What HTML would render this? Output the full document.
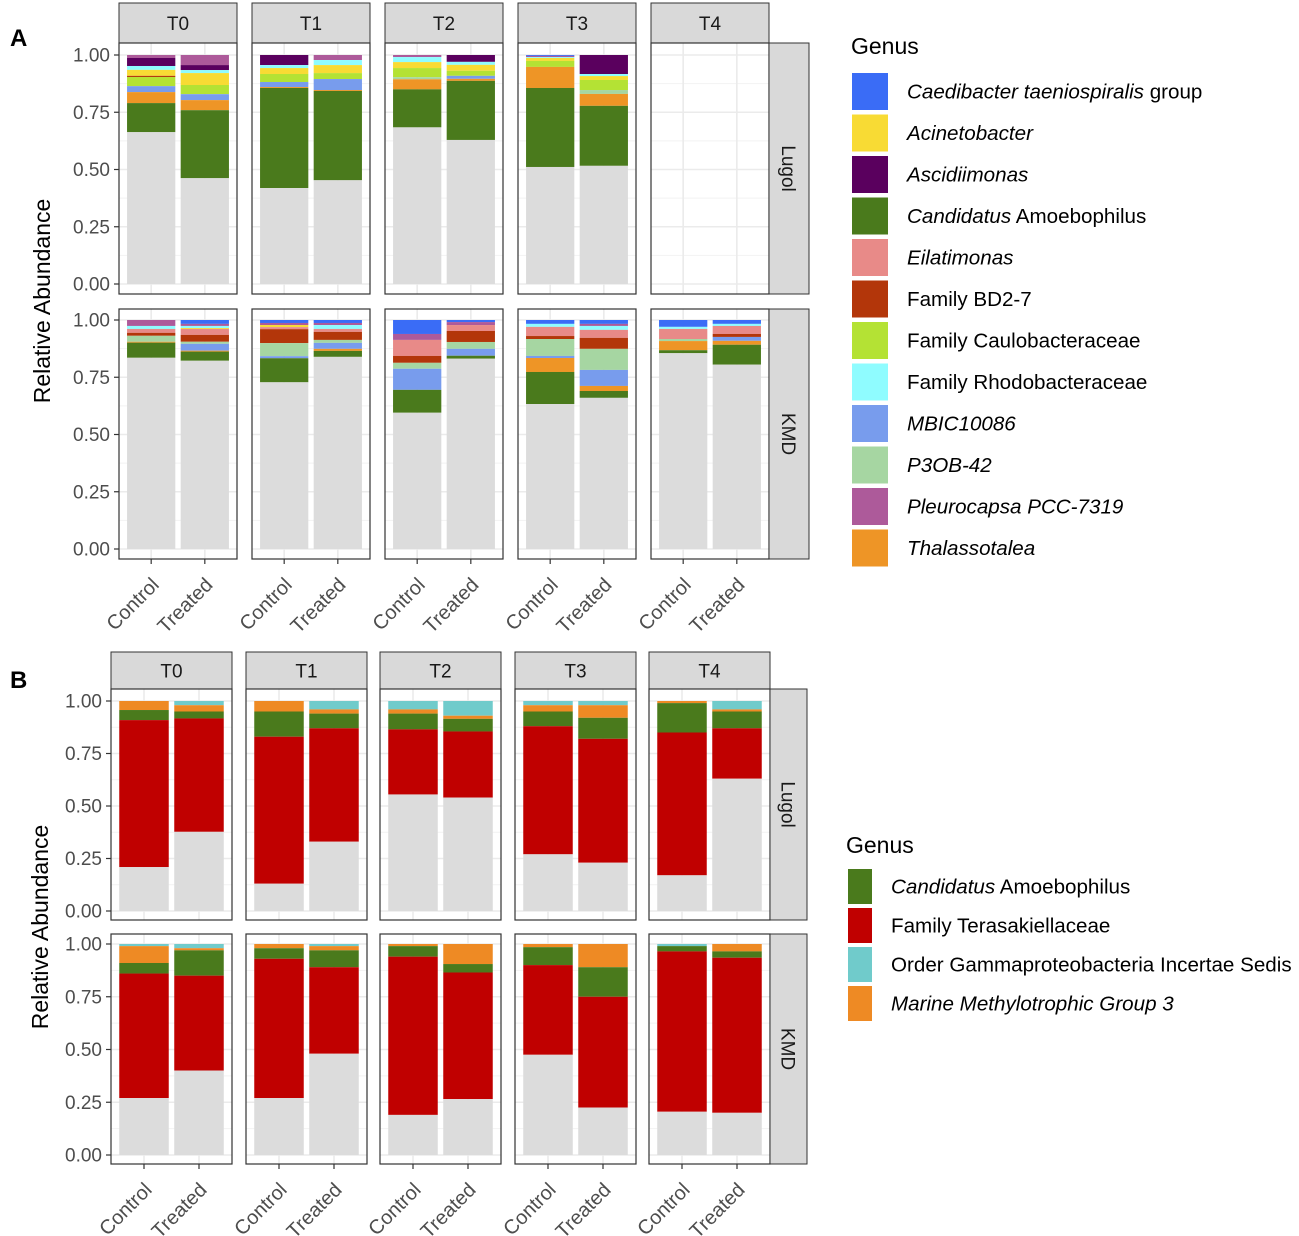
<!DOCTYPE html>
<html><head><meta charset="utf-8"><style>
body{margin:0;background:#fff;}
svg{display:block;font-family:"Liberation Sans",sans-serif;}
</style></head><body>
<svg id="fig" width="1299" height="1236" viewBox="0 0 1299 1236"></svg>
<script>
// ---------- Panel A data ----------
const genusA = ["Caedibacter taeniospiralis group","Pleurocapsa PCC-7319","Ascidiimonas","Family Rhodobacteraceae","Acinetobacter","Eilatimonas","Family BD2-7","Family Caulobacteraceae","P3OB-42","MBIC10086","Thalassotalea","Candidatus Amoebophilus","Other"];
const colorsA = ["#3a6cf6","#ad5a9a","#5a005e","#8ffcff","#f8db34","#e88a88","#b3360a","#b4e234","#a6d6a2","#789ced","#ee9526","#4a7a1c","#dcdcdc"];
const timepoints = ["T0","T1","T2","T3","T4"];
const treatments = ["Control","Treated"];
// segment order = genusA order (top to bottom); null = no bar
const aLugolControl = [
 [0,.013,.035,.017,.026,0,.005,.04,0,.026,.048,.127,.663],
 [0,0,.044,.013,.026,0,0,.035,0,.022,.004,.437,.419],
 [0,.009,0,.022,.026,0,0,.04,.009,0,.044,.166,.684],
 [.004,.005,0,.004,.013,0,0,.026,0,0,.092,.345,.511],
 null];
const aLugolTreated = [
 [0,.044,.022,.013,.052,0,0,.04,0,.026,.044,.297,.462],
 [0,.022,0,.022,.035,0,0,.026,0,.048,.004,.39,.453],
 [0,0,.03,.013,.026,0,0,.022,0,.013,.009,.258,.629],
 [0,0,.083,.009,.017,0,0,.044,.017,0,.052,.262,.516],
 null];
const aKmdControl = [
 [0,.026,0,.013,0,.017,.013,0,.026,0,.004,.066,.835],
 [.013,.009,0,0,.009,.009,.061,0,.057,.009,0,.105,.728],
 [.061,.026,0,0,0,.07,.03,0,.026,.092,0,.1,.595],
 [.017,0,0,.013,0,.04,.013,0,.074,.009,.061,.14,.633],
 [.03,0,0,.009,0,.044,0,0,.009,0,.04,.013,.855]];
const aKmdTreated = [
 [.017,.009,0,.009,.004,.026,.03,0,.009,.03,.004,.04,.822],
 [.013,.009,0,.017,0,.013,.035,0,.013,.026,.009,.026,.839],
 [.009,.013,0,0,0,.026,.048,0,.03,.03,0,.013,.831],
 [.017,.009,0,.017,0,.035,.048,0,.092,.07,.022,.03,.66],
 [.017,0,0,.009,0,.035,.013,0,0,.017,.017,.087,.805]];
// ---------- Panel B data ----------
const genusB = ["Order Gammaproteobacteria Incertae Sedis","Marine Methylotrophic Group 3","Candidatus Amoebophilus","Family Terasakiellaceae","Other"];
const colorsB = ["#70cbcb","#ee8a24","#4a7a1c","#c00000","#dcdcdc"];
const bLugolControl = [[0,.043,.048,.70,.209],[0,.05,.12,.70,.13],[.04,.02,.075,.31,.555],[.02,.03,.07,.61,.27],[0,.01,.14,.68,.17]];
const bLugolTreated = [[.02,.03,.033,.54,.377],[.04,.02,.07,.54,.33],[.07,.015,.06,.315,.54],[.02,.06,.10,.59,.23],[.04,.01,.08,.24,.63]];
const bKmdControl = [[.01,.08,.05,.59,.27],[0,.02,.05,.66,.27],[0,.01,.05,.75,.19],[0,.015,.085,.425,.475],[.01,0,.025,.76,.205]];
const bKmdTreated = [[.02,.01,.12,.45,.40],[.01,.02,.08,.41,.48],[0,.095,.04,.60,.265],[0,.11,.14,.525,.225],[0,.035,.03,.735,.20]];
const yTicks = [0,0.25,0.5,0.75,1];
const yTickLabels = ["0.00","0.25","0.50","0.75","1.00"];

const NS="http://www.w3.org/2000/svg";
const svg=document.getElementById('fig');
function mk(tag,attrs,parent){const e=document.createElementNS(NS,tag);for(const k in attrs)e.setAttribute(k,attrs[k]);(parent||svg).appendChild(e);return e;}

function drawFacetGrid(cfg){
  const g=mk('g',{});
  
  
  cfg.xl.forEach((x,i)=>{
    const s=mk('rect',{x:x,y:cfg.stripTop,width:cfg.pw,height:cfg.rows[0].top-cfg.stripTop,fill:'#d9d9d9',stroke:'#333','stroke-width':1},g);
    
    
    const t=mk('text',{x:x+cfg.pw/2,y:(cfg.stripTop+cfg.rows[0].top)/2+7,'text-anchor':'middle','font-size':19,fill:'#1a1a1a'},g);
    t.textContent=timepoints[i];
    
    
  });
  cfg.rows.forEach((row,ri)=>{
    const yS=v=>row.y1+(row.y0-row.y1)*v;
    yTicks.forEach((v,k)=>{
      mk('line',{x1:cfg.xl[0]-5,x2:cfg.xl[0],y1:yS(v),y2:yS(v),stroke:'#333','stroke-width':1.2},g);
      const t=mk('text',{x:cfg.xl[0]-9,y:yS(v)+6.5,'text-anchor':'end','font-size':19,fill:'#4d4d4d'},g);
      t.textContent=yTickLabels[k];
      
      
    });
    cfg.xl.forEach((x,ci)=>{
      const u=cfg.pw/2.2, bw=u*0.9;
      const p=mk('rect',{x:x,y:row.top,width:cfg.pw,height:row.bot-row.top,fill:'#fff'},g);
      
      
      [0.125,0.375,0.625,0.875].forEach(v=>mk('line',{x1:x,x2:x+cfg.pw,y1:yS(v),y2:yS(v),stroke:'#f2f2f2','stroke-width':1},g));
      yTicks.forEach(v=>mk('line',{x1:x,x2:x+cfg.pw,y1:yS(v),y2:yS(v),stroke:'#ebebeb','stroke-width':1.6},g));
      [0.6,1.6].forEach(c=>mk('line',{x1:x+c*u,x2:x+c*u,y1:row.top,y2:row.bot,stroke:'#ebebeb','stroke-width':1.6},g));
      row.series.forEach((ser,bi)=>{
        const vals=ser[ci]; const cx=x+(0.6+bi)*u;
        if(vals){
          let cum=0;
          vals.forEach((v,gi)=>{
            if(v<=0){return;}
            const r=mk('rect',{x:cx-bw/2,y:yS(1-cum),width:bw,height:Math.max(0,yS(1-cum-v)-yS(1-cum)),fill:cfg.colors[gi]},g);
            
            
            cum+=v;
          });
        }
        if(ri===cfg.rows.length-1){
          mk('line',{x1:cx,x2:cx,y1:row.bot,y2:row.bot+5,stroke:'#333','stroke-width':1.2},g);
          const t=mk('text',{'text-anchor':'end','font-size':20,fill:'#4d4d4d',transform:`translate(${cx+9},${row.bot+27}) rotate(-45)`},g);
          t.textContent=treatments[bi];
          
          
        }
      });
      mk('rect',{x:x,y:row.top,width:cfg.pw,height:row.bot-row.top,fill:'none',stroke:'#333','stroke-width':1.2},g);
    });
    const sx=cfg.xl[4]+cfg.pw;
    const s=mk('rect',{x:sx,y:row.top,width:cfg.sw,height:row.bot-row.top,fill:'#d9d9d9',stroke:'#333','stroke-width':1},g);
    
    
    const t=mk('text',{'text-anchor':'middle','font-size':19,fill:'#1a1a1a',transform:`translate(${sx+cfg.sw/2-7},${(row.top+row.bot)/2}) rotate(90)`},g);
    t.textContent=row.label;
    
    
  });
  const yt=mk('text',{'text-anchor':'middle','font-size':23,fill:'#000',transform:`translate(${cfg.ytx},${cfg.yty}) rotate(-90)`},g);
  yt.textContent='Relative Abundance';
  
  
}

drawFacetGrid({name:'panel-a',xl:[119,252,385,518,651],pw:118,sw:40,stripTop:3,genus:genusA,colors:colorsA,ytx:50,yty:301,
 rows:[{label:'Lugol',top:43,bot:294,y0:55,y1:284,series:[aLugolControl,aLugolTreated]},
       {label:'KMD',top:309,bot:559,y0:320,y1:549,series:[aKmdControl,aKmdTreated]}]});
drawFacetGrid({name:'panel-b',xl:[111,246,380,515,649],pw:121,sw:37,stripTop:652,genus:genusB,colors:colorsB,ytx:48,yty:927,
 rows:[{label:'Lugol',top:689,bot:920,y0:701,y1:911,series:[bLugolControl,bLugolTreated]},
       {label:'KMD',top:934,bot:1164,y0:944,y1:1155,series:[bKmdControl,bKmdTreated]}]});

function legend(name,tx,ty,kx,ky,kw,kh,step,fs,items){
  const g=mk('g',{});
  
  
  const t=mk('text',{x:tx,y:ty,'font-size':23,fill:'#000'},g);
  t.textContent='Genus';
  items.forEach((it,i)=>{
    const r=mk('rect',{x:kx,y:ky+i*step,width:kw,height:kh,fill:it[1]},g);
    
    
    const tt=mk('text',{x:kx+kw+19,y:ky+i*step+kh/2+7,'font-size':fs,fill:'#000'},g);
    
    
    it[0].forEach(p=>{const s=mk('tspan',{},tt);if(p[1])s.setAttribute('font-style','italic');s.textContent=p[0];});
  });
}
legend('legend-a',851,54,852,73,36,37,41.5,20.6,[
 [[["Caedibacter taeniospiralis",1],[" group",0]],"#3a6cf6"],
 [[["Acinetobacter",1]],"#f8db34"],
 [[["Ascidiimonas",1]],"#5a005e"],
 [[["Candidatus",1],[" Amoebophilus",0]],"#4a7a1c"],
 [[["Eilatimonas",1]],"#e88a88"],
 [[["Family BD2-7",0]],"#b3360a"],
 [[["Family Caulobacteraceae",0]],"#b4e234"],
 [[["Family Rhodobacteraceae",0]],"#8ffcff"],
 [[["MBIC10086",1]],"#789ced"],
 [[["P3OB-42",1]],"#a6d6a2"],
 [[["Pleurocapsa PCC-7319",1]],"#ad5a9a"],
 [[["Thalassotalea",1]],"#ee9526"]]);
legend('legend-b',846,853,848,869,24,35,39,20.6,[
 [[["Candidatus",1],[" Amoebophilus",0]],"#4a7a1c"],
 [[["Family Terasakiellaceae",0]],"#c00000"],
 [[["Order Gammaproteobacteria Incertae Sedis",0]],"#70cbcb"],
 [[["Marine Methylotrophic Group 3",1]],"#ee8a24"]]);
const la=mk('text',{x:10,y:46,'font-size':24,'font-weight':'bold'});la.textContent='A';


const lb=mk('text',{x:10,y:688,'font-size':24,'font-weight':'bold'});lb.textContent='B';


</script>
</body></html>
